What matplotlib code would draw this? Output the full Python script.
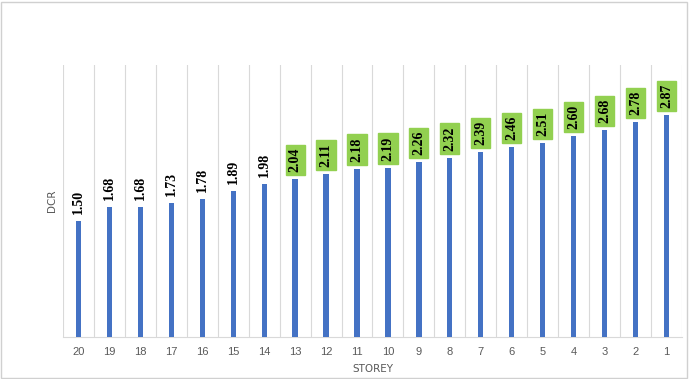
import numpy as np
import matplotlib.pyplot as plt
from matplotlib.patches import Rectangle

# data
storeys = ['20', '19', '18', '17', '16', '15', '14', '13', '12', '11',
           '10', '9', '8', '7', '6', '5', '4', '3', '2', '1']
dcr = [1.50, 1.68, 1.68, 1.73, 1.78, 1.89, 1.98, 2.04, 2.11, 2.18,
       2.19, 2.26, 2.32, 2.39, 2.46, 2.51, 2.60, 2.68, 2.78, 2.87]
highlight_from = 2.0

fig = plt.figure(figsize=(6.89, 3.79), dpi=100)
ax = fig.add_axes([0.0914, 0.111, 0.8984, 0.7175])

x = np.arange(len(storeys))
ax.bar(x, dcr, width=0.17, color='#4472C4', zorder=3)

# vertical gridlines between categories
for b in np.arange(-0.5, len(storeys), 1.0):
    ax.axvline(b, color='#D9D9D9', lw=0.8, zorder=1)

ax.set_xlim(-0.5, len(storeys) - 0.5)
ax.set_ylim(0, 3.52)
ax.set_yticks([])
ax.set_xticks(x)
ax.set_xticklabels(storeys, color='#595959', fontsize=8, fontfamily='Liberation Sans')
ax.tick_params(axis='x', length=0, pad=7)

for s in ['top', 'right', 'left']:
    ax.spines[s].set_visible(False)
ax.spines['bottom'].set_color('#D9D9D9')

ax.set_ylabel('DCR', color='#595959', fontsize=7.5, labelpad=4)
ax.set_xlabel('STOREY', color='#595959', fontsize=7.5, labelpad=5)

for xi, v in zip(x, dcr):
    box = None
    if v >= highlight_from:
        box = dict(boxstyle='square,pad=0.22', fc='#92D050', ec='#92D050')
    ax.annotate(f'{v:.2f}', (xi, v), xytext=(0, 5), textcoords='offset points',
                rotation=90, ha='center', va='bottom', fontsize=10,
                fontweight='bold', fontfamily='Liberation Serif', bbox=box, zorder=4)

# outer chart border
fig.patches.append(Rectangle((0.002, 0.003), 0.995, 0.993, transform=fig.transFigure,
                             fill=False, ec='#D0D0D0', lw=1))

fig.savefig('out.png', dpi=100)
